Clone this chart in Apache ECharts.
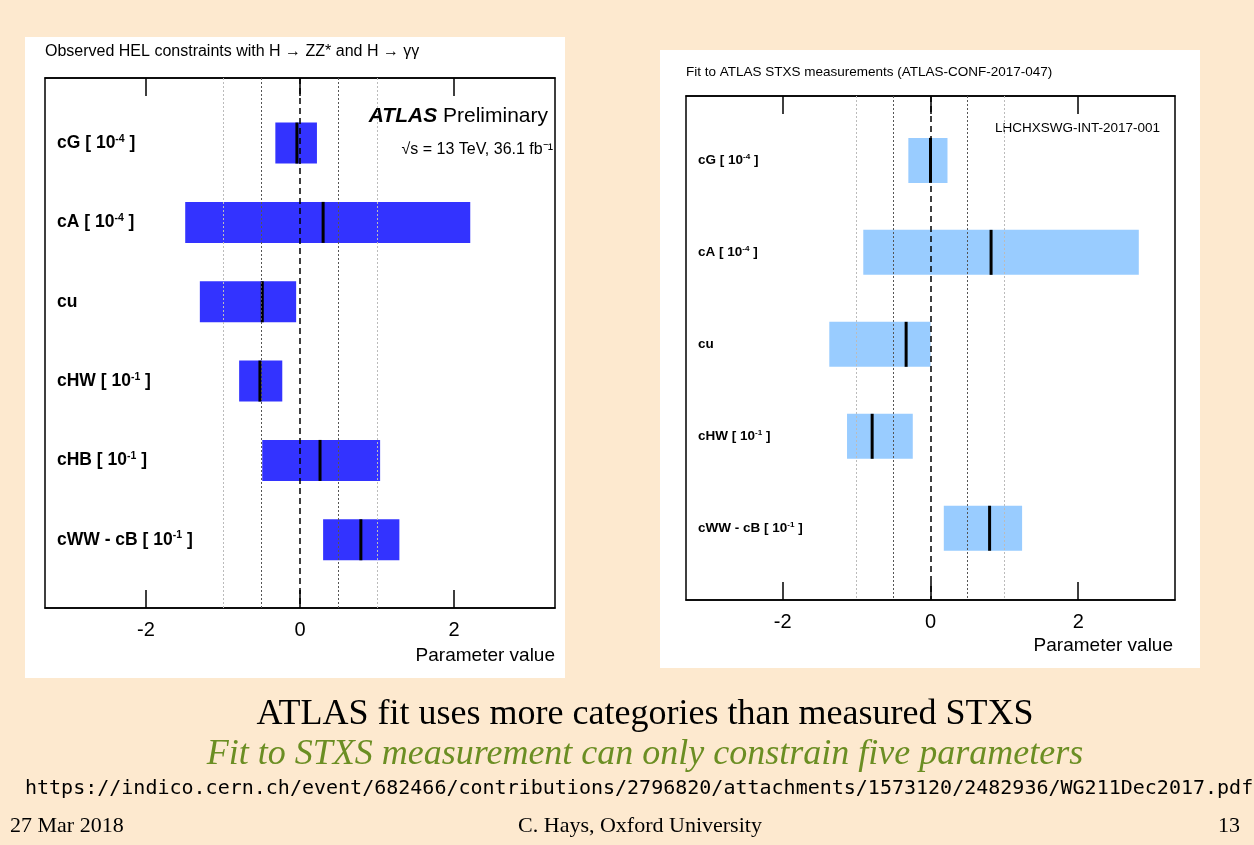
<!DOCTYPE html>
<html><head><meta charset="utf-8">
<script src="https://cdn.jsdelivr.net/npm/echarts@6/dist/echarts.min.js"></script>
<style>html,body{margin:0;padding:0;background:#fde9cf}#c{width:1254px;height:845px}</style>
</head><body><div id="c"></div>
<script>
// 左图 ATLAS HEL 约束
var leftLabels = ['cG [ 10{s|-4} ]', 'cA [ 10{s|-4} ]', 'cu', 'cHW [ 10{s|-1} ]', 'cHB [ 10{s|-1} ]', 'cWW - cB [ 10{s|-1} ]'];
var leftLo = [-0.32, -1.49, -1.30, -0.79, -0.49, 0.30];
var leftHi = [0.22, 2.21, -0.05, -0.23, 1.04, 1.29];
var leftBest = [-0.04, 0.30, -0.49, -0.52, 0.26, 0.79];
// 右图 STXS 拟合
var rightLabels = ['cG [ 10{s|-4} ]', 'cA [ 10{s|-4} ]', 'cu', 'cHW [ 10{s|-1} ]', 'cWW - cB [ 10{s|-1} ]'];
var rightLo = [-0.30, -0.91, -1.37, -1.13, 0.18];
var rightHi = [0.23, 2.82, 0.00, -0.24, 1.24];
var rightBest = [0.00, 0.82, -0.33, -0.79, 0.80];
var xTicks = [-2, 0, 2];

function rows(lo, hi, best) {
    return lo.map(function (v, i) { return [i, v, hi[i], best[i]]; });
}
function makeRender(labels, color, barH, fs, lw) {
    return function (params, api) {
        var i = api.value(0);
        var p0 = api.coord([api.value(1), i]);
        var p1 = api.coord([api.value(2), i]);
        var pb = api.coord([api.value(3), i]);
        var cs = params.coordSys;
        return {type: 'group', children: [
            {type: 'rect', shape: {x: p0[0], y: p0[1] - barH / 2, width: p1[0] - p0[0], height: barH},
             style: {fill: color}},
            {type: 'line', shape: {x1: pb[0], y1: pb[1] - barH / 2, x2: pb[0], y2: pb[1] + barH / 2},
             style: {stroke: '#000', lineWidth: lw}},
            {type: 'text', x: cs.x + 12, y: p0[1],
             style: {text: labels[i], fill: '#000', font: 'bold ' + fs + 'px Liberation Sans', verticalAlign: 'middle',
                 rich: {s: {fontSize: fs * 0.6, fontWeight: 'bold', verticalAlign: 'top', padding: [0, 0, fs * 0.5, 0]}}}}
        ]};
    };
}
function vlines() {
    var items = [-1, -0.5, 0.5, 1].map(function (v) {
        return {xAxis: v, lineStyle: {color: Math.abs(v) === 1 ? '#bbb' : '#555', type: [2, 2], width: 1}};
    });
    items.push({xAxis: 0, lineStyle: {color: '#000', type: [6, 4], width: 1.5}});
    return {silent: true, symbol: 'none', label: {show: false}, data: items};
}
function xAx(idx, fs, tl) {
    return [{
        type: 'value', gridIndex: idx, min: -3.31, max: 3.31, position: 'bottom',
        splitLine: {show: false},
        axisLine: {onZero: false, lineStyle: {color: '#000', width: 1.5}},
        axisTick: {inside: true, length: tl, customValues: xTicks, lineStyle: {color: '#000', width: 1.5}},
        axisLabel: {customValues: xTicks, color: '#000', fontSize: fs, fontFamily: 'Liberation Sans', margin: 12}
    }, {
        type: 'value', gridIndex: idx, min: -3.31, max: 3.31, position: 'top',
        splitLine: {show: false},
        axisLine: {onZero: false, lineStyle: {color: '#000', width: 1.5}},
        axisTick: {inside: true, length: tl, customValues: xTicks, lineStyle: {color: '#000', width: 1.5}},
        axisLabel: {show: false}
    }];
}
function yAx(idx, min, max) {
    return {type: 'value', gridIndex: idx, inverse: true, min: min, max: max,
        axisLine: {show: false, onZero: false}, axisTick: {show: false},
        axisLabel: {show: false}, splitLine: {show: false}};
}
function txt(x, y, t, font, fill, align) {
    return {type: 'text', x: x, y: y, style: {text: t, font: font, fill: fill || '#000', align: align || 'left', verticalAlign: 'middle'}};
}

var chart = echarts.init(document.getElementById('c'));
var option = {
    backgroundColor: '#fde9cf',
    animation: false,
    graphic: [
        {type: 'rect', z: -10, shape: {x: 25, y: 37, width: 540, height: 641}, style: {fill: '#fff'}},
        {type: 'rect', z: -10, shape: {x: 660, y: 50, width: 540, height: 618}, style: {fill: '#fff'}},
        txt(45, 52, 'Observed HEL constraints with H \u2192 ZZ* and H \u2192 \u03b3\u03b3', '16px Liberation Sans'),
        txt(548, 116, '{b|ATLAS} Preliminary', '21px Liberation Sans', '#000', 'right'),
        txt(553, 150, '\u221as = 13 TeV, 36.1 fb\u207b\u00b9', '16px Liberation Sans', '#000', 'right'),
        txt(555, 656, 'Parameter value', '19px Liberation Sans', '#000', 'right'),
        txt(686, 72, 'Fit to ATLAS STXS measurements (ATLAS-CONF-2017-047)', '13.5px Liberation Sans'),
        txt(1160, 128, 'LHCHXSWG-INT-2017-001', '13.5px Liberation Sans', '#000', 'right'),
        txt(1173, 646, 'Parameter value', '19px Liberation Sans', '#000', 'right'),
        txt(645, 715, 'ATLAS fit uses more categories than measured STXS', '36px Liberation Serif', '#000', 'center'),
        txt(645, 755, 'Fit to STXS measurement can only constrain five parameters', 'italic 36px Liberation Serif', '#6b8e23', 'center'),
        txt(25, 789, 'https://indico.cern.ch/event/682466/contributions/2796820/attachments/1573120/2482936/WG211Dec2017.pdf', '20px DejaVu Sans Mono'),
        txt(10, 826, '27 Mar 2018', '22px Liberation Serif'),
        txt(640, 826, 'C. Hays, Oxford University', '22px Liberation Serif', '#000', 'center'),
        txt(1240, 826, '13', '22px Liberation Serif', '#000', 'right')
    ],
    grid: [
        {left: 45, top: 78, width: 510, height: 530, show: true, borderColor: '#000', borderWidth: 1.5},
        {left: 686, top: 96, width: 489, height: 504, show: true, borderColor: '#000', borderWidth: 1.5}
    ],
    xAxis: xAx(0, 20, 18).concat(xAx(1, 20, 18)),
    yAxis: [yAx(0, -0.82, 5.86), yAx(1, -0.70, 4.78)],
    series: [{
        type: 'custom', xAxisIndex: 0, yAxisIndex: 0,
        renderItem: makeRender(leftLabels, '#3333ff', 41, 17.5, 3),
        data: rows(leftLo, leftHi, leftBest), encode: {x: [1, 2], y: 0},
        markLine: vlines()
    }, {
        type: 'custom', xAxisIndex: 2, yAxisIndex: 1,
        renderItem: makeRender(rightLabels, '#99ccff', 45, 13.5, 3),
        data: rows(rightLo, rightHi, rightBest), encode: {x: [1, 2], y: 0},
        markLine: vlines()
    }]
};
option.graphic[3].style.rich = {b: {font: 'italic bold 21px Liberation Sans'}};
chart.setOption(option);
</script></body></html>
